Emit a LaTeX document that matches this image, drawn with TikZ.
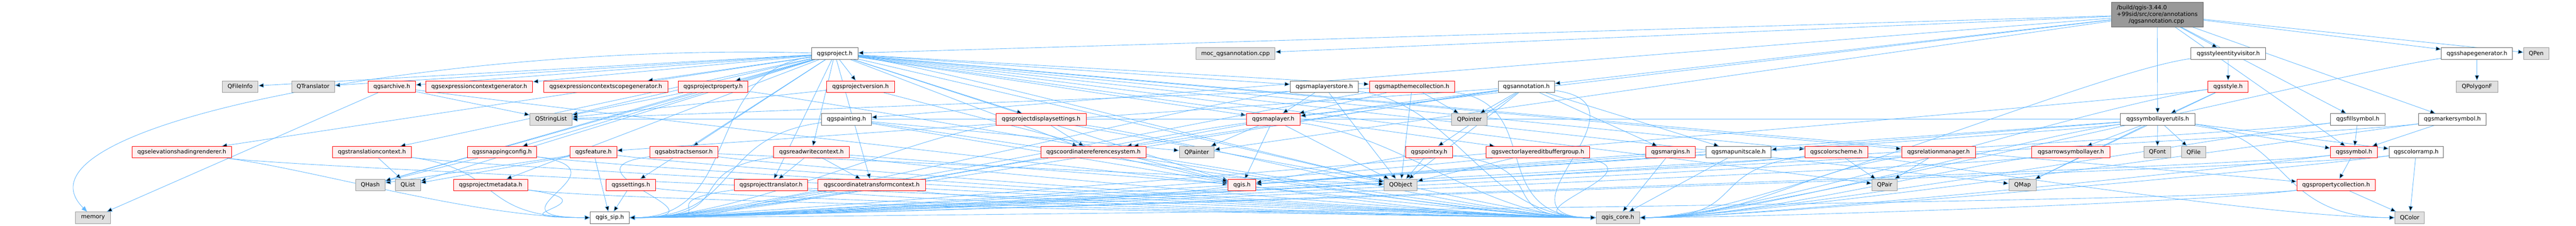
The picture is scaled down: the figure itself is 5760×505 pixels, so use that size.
\documentclass[tikz,border=0pt]{standalone}
\usepackage{fontspec}
\setmainfont{DejaVu Sans}
\usetikzlibrary{arrows.meta}
\definecolor{edgeblue}{HTML}{63B8FF}
\definecolor{truncred}{HTML}{FF0000}
\definecolor{truncfill}{HTML}{FFF0F0}
\definecolor{sysfill}{HTML}{E0E0E0}
\definecolor{sysdraw}{HTML}{999999}
\definecolor{filedraw}{HTML}{666666}
\pgfdeclarelayer{background}
\pgfsetlayers{background,main}
\begin{document}
\begin{tikzpicture}[x=0.75pt, y=-0.75pt, >={Triangle[length=9pt,width=7.5pt]},
    file node/.style={rectangle,draw,line width=0.75pt,inner sep=0pt,minimum height=19.5pt,font=\fontsize{9.6pt}{11.25pt}\selectfont},
    white node/.style={file node,draw=filedraw,fill=white},
    red node/.style={file node,draw=truncred,fill=truncfill},
    gray node/.style={file node,draw=sysdraw,fill=sysfill},
    main file/.style={file node,draw=filedraw,fill=sysdraw,minimum height=41.25pt},
    wd/.style={minimum width=#1*0.75pt},
    dep/.style={->,draw=edgeblue,line width=0.75pt},
    enter left/.style={to path={(\tikztostart) .. controls +(300,40) and +(-300,0) .. (\tikztotarget)}},
    enter right/.style={to path={(\tikztostart) .. controls +(-300,40) and +(300,0) .. (\tikztotarget)}}]

                \useasboundingbox (0, 0) rectangle (5760, 505);

                % top row
                \node[main file, wd=205, align=left] at (4823.5, 32.5) (main) {/build/qgis-3.44.0\\+99sid/src/core/annotations\\\hspace*{20pt}/qgsannotation.cpp};
                \node[white node, wd=103] at (1866.5, 120) (project) {qgsproject.h};
                \node[gray node, wd=177] at (2762.5, 120) (mocann) {moc\_qgsannotation.cpp};
                \node[white node, wd=167] at (4982.5, 120) (styleentity) {qgsstyleentityvisitor.h};
                \node[white node, wd=159] at (5538.5, 120) (shapegen) {qgsshapegenerator.h};
                \node[gray node, wd=56] at (5671, 120) (qpen) {QPen};

                % second row
                \node[gray node, wd=80] at (537, 194) (qfileinfo) {QFileInfo};
                \node[gray node, wd=96] at (700, 194) (qtranslator) {QTranslator};
                \node[red node, wd=106] at (876, 194) (archive) {qgsarchive.h};
                \node[red node, wd=239] at (1071.5, 194) (exprgen) {qgsexpressioncontextgenerator.h};
                \node[red node, wd=277] at (1354.5, 194) (exprscopegen) {qgsexpressioncontextscopegenerator.h};
                \node[red node, wd=155] at (1594.5, 194) (projproperty) {qgsprojectproperty.h};
                \node[red node, wd=152] at (1924, 194) (projversion) {qgsprojectversion.h};
                \node[white node, wd=152] at (2961, 194) (layerstore) {qgsmaplayerstore.h};
                \node[red node, wd=191] at (3157.5, 194) (themecoll) {qgsmapthemecollection.h};
                \node[white node, wd=126] at (3413, 194) (annotation) {qgsannotation.h};
                \node[red node, wd=90] at (4982, 194) (style) {qgsstyle.h};
                \node[gray node, wd=93] at (5538.5, 194) (qpolygonf) {QPolygonF};

                % third row
                \node[gray node, wd=94] at (1232, 267) (qstringlist) {QStringList};
                \node[white node, wd=111] at (1892.5, 267) (painting) {qgspainting.h};
                \node[red node, wd=202] at (2328, 267) (displaysettings) {qgsprojectdisplaysettings.h};
                \node[red node, wd=120] at (2847, 267) (maplayer) {qgsmaplayer.h};
                \node[gray node, wd=79] at (3285.5, 267) (qpointer) {QPointer};
                \node[white node, wd=167] at (4824.5, 267) (symlayerutils) {qgssymbollayerutils.h};
                \node[white node, wd=122] at (5272, 267) (fillsymbol) {qgsfillsymbol.h};
                \node[white node, wd=151] at (5483.5, 267) (markersymbol) {qgsmarkersymbol.h};

                % fourth row
                \node[red node, wd=223] at (406.5, 340.5) (elevshading) {qgselevationshadingrenderer.h};
                \node[red node, wd=177] at (831.5, 340.5) (translationctx) {qgstranslationcontext.h};
                \node[red node, wd=155] at (1122.5, 340.5) (snapping) {qgssnappingconfig.h};
                \node[red node, wd=104] at (1327, 340.5) (feature) {qgsfeature.h};
                \node[red node, wd=152] at (1529, 340.5) (sensor) {qgsabstractsensor.h};
                \node[red node, wd=169] at (1814.5, 340.5) (rwcontext) {qgsreadwritecontext.h};
                \node[red node, wd=236] at (2445, 340.5) (crs) {qgscoordinatereferencesystem.h};
                \node[gray node, wd=78] at (2676, 340.5) (qpainter) {QPainter};
                \node[red node, wd=105] at (3195.5, 340.5) (pointxy) {qgspointxy.h};
                \node[red node, wd=231] at (3438.5, 340.5) (editbuffergroup) {qgsvectorlayereditbuffergroup.h};
                \node[red node, wd=111] at (3735.5, 340.5) (margins) {qgsmargins.h};
                \node[white node, wd=145] at (3887.5, 340.5) (mapunitscale) {qgsmapunitscale.h};
                \node[red node, wd=140] at (4106, 340.5) (colorscheme) {qgscolorscheme.h};
                \node[red node, wd=165] at (4334.5, 340.5) (relationmgr) {qgsrelationmanager.h};
                \node[red node, wd=175] at (4630.5, 340.5) (arrowsymlayer) {qgsarrowsymbollayer.h};
                \node[gray node, wd=60] at (4824, 340.5) (qfont) {QFont};
                \node[gray node, wd=54] at (4905, 340.5) (qfile) {QFile};
                \node[red node, wd=105] at (5263.5, 340.5) (symbol) {qgssymbol.h};
                \node[white node, wd=121] at (5402.5, 340.5) (colorramp) {qgscolorramp.h};

                % fifth row
                \node[gray node, wd=66] at (828, 414) (qhash) {QHash};
                \node[gray node, wd=56] at (912, 414) (qlist) {QList};
                \node[red node, wd=166] at (1097, 414) (projmetadata) {qgsprojectmetadata.h};
                \node[red node, wd=111] at (1410.5, 414) (settings) {qgssettings.h};
                \node[red node, wd=164] at (1724, 414) (projtranslator) {qgsprojecttranslator.h};
                \node[red node, wd=240] at (1949, 414) (transformctx) {qgscoordinatetransformcontext.h};
                \node[red node, wd=62] at (2777, 414) (qgis) {qgis.h};
                \node[gray node, wd=74] at (3132, 414) (qobject) {QObject};
                \node[gray node, wd=56] at (4214, 414) (qpair) {QPair};
                \node[gray node, wd=61] at (4522.5, 414) (qmap) {QMap};
                \node[red node, wd=175] at (5223.5, 414) (propcoll) {qgspropertycollection.h};

                % bottom row
                \node[gray node, wd=78] at (208, 487) (memory) {memory};
                \node[white node, wd=87] at (1363.5, 487) (qgissip) {qgis\_sip.h};
                \node[gray node, wd=97] at (3617.5, 487) (qgiscore) {qgis\_core.h};
                \node[gray node, wd=66] at (5388, 487) (qcolor) {QColor};

                \begin{pgfonlayer}{background}
                \path[dep] (main) edge (annotation) edge (mocann) edge (project) edge (maplayer) edge (painting)
                    edge (qpainter) edge (symlayerutils) edge (styleentity) edge (shapegen) edge (qpen)
                    edge (fillsymbol) edge (markersymbol) edge (symbol);
                \path[dep] (project) edge (qfileinfo) edge (qtranslator) edge (archive) edge (exprgen)
                    edge (exprscopegen) edge (projproperty) edge (projversion) edge (layerstore) edge (themecoll)
                    edge (qstringlist) edge (displaysettings) edge (maplayer) edge (elevshading) edge (translationctx)
                    edge (snapping) edge (sensor) edge (rwcontext) edge (crs) edge (editbuffergroup) edge (colorscheme)
                    edge (relationmgr) edge (projmetadata) edge (projtranslator) edge (transformctx) edge (settings)
                    edge (qgis) edge (qobject) edge (qpair) edge (qmap) edge (qlist) edge (qhash)
                    edge[enter right] (qgissip) edge[enter left] (qgiscore) edge (propcoll);
                \draw[dep] (project) .. controls (1000, 95) and (0, 280) .. (memory);
                \path[dep] (layerstore) edge (maplayer) edge (qobject) edge[enter left] (qgiscore) edge[enter right] (qgissip);
                \path[dep] (themecoll) edge (maplayer) edge (qpointer) edge (qobject) edge (qstringlist)
                    edge[enter left] (qgiscore) edge[enter right] (qgissip);
                \path[dep] (annotation) edge (maplayer) edge (qpointer) edge (pointxy) edge (qobject) edge (margins)
                    edge (mapunitscale) edge (crs) edge (feature) edge[enter left] (qgiscore) edge[enter right] (qgissip);
                \path[dep] (styleentity) edge (style) edge[enter right] (qgiscore);
                \path[dep] (style) edge (symlayerutils) edge (qmap) edge[enter right] (qgiscore) edge[enter right] (qgissip);
                \path[dep] (shapegen) edge (qpolygonf) edge[enter right] (qgiscore);
                \path[dep] (symlayerutils) edge (arrowsymlayer) edge (qfont) edge (qfile) edge (qmap) edge (symbol)
                    edge (colorramp) edge (mapunitscale) edge (qstringlist) edge (qgis) edge[enter left] (qcolor)
                    edge[enter right] (qgiscore) edge[enter right] (qgissip);
                \path[dep] (fillsymbol) edge (symbol) edge[enter right] (qgiscore) edge[enter right] (qgissip);
                \path[dep] (markersymbol) edge (symbol) edge[enter right] (qgiscore) edge[enter right] (qgissip);
                \path[dep] (symbol) edge (propcoll) edge[enter right] (qgiscore) edge[enter right] (qgissip);
                \path[dep] (colorramp) edge (qcolor) edge[enter right] (qgiscore) edge[enter right] (qgissip);
                \path[dep] (propcoll) edge (qcolor) edge[enter right] (qgiscore) edge[enter right] (qgissip);
                \path[dep] (arrowsymlayer) edge[enter right] (qgiscore) edge[enter right] (qgissip);
                \path[dep] (relationmgr) edge (qpair) edge[enter right] (qgiscore) edge[enter right] (qgissip);
                \path[dep] (colorscheme) edge (qpair) edge[enter left] (qcolor) edge[enter right] (qgiscore) edge[enter right] (qgissip);
                \path[dep] (mapunitscale) edge (qgis) edge (qgiscore);
                \path[dep] (margins) edge (qgis) edge (qgiscore);
                \path[dep] (editbuffergroup) edge (qobject) edge[enter left] (qgiscore) edge[enter right] (qgissip);
                \path[dep] (pointxy) edge (qobject) edge (qgis) edge[enter left] (qgiscore);
                \path[dep] (maplayer) edge (crs) edge (qpainter) edge (qobject) edge (qgis)
                    edge[enter left] (qgiscore) edge[enter right] (qgissip);
                \path[dep] (displaysettings) edge (crs) edge (qobject) edge[enter left] (qgiscore) edge[enter right] (qgissip);
                \path[dep] (crs) edge (qgis) edge[enter left] (qgiscore) edge[enter right] (qgissip);
                \path[dep] (qgis) edge[enter left] (qgiscore) edge[enter right] (qgissip);
                \path[dep] (painting) edge (qpainter) edge (qgis) edge[enter left] (qgiscore) edge[enter right] (qgissip);
                \path[dep] (rwcontext) edge (projtranslator) edge (transformctx) edge (qgis)
                    edge[enter left] (qgiscore) edge[enter right] (qgissip);
                \path[dep] (sensor) edge (qobject) edge[enter left] (qgiscore) edge[enter right] (qgissip);
                \path[dep] (projtranslator) edge[enter left] (qgiscore) edge[enter right] (qgissip);
                \path[dep] (transformctx) edge[enter left] (qgiscore) edge[enter right] (qgissip);
                \path[dep] (settings) edge[enter left] (qgiscore) edge (qgissip);
                \path[dep] (projmetadata) edge[enter left] (qgiscore) edge[enter left] (qgissip);
                \path[dep] (feature) edge (qlist) edge (qhash) edge[enter left] (qgiscore) edge (qgissip);
                \path[dep] (snapping) edge (qhash) edge[enter left] (qgiscore) edge[enter left] (qgissip);
                \path[dep] (translationctx) edge (qlist) edge[enter left] (qgiscore) edge[enter left] (qgissip);
                \path[dep] (archive) edge (memory) edge (qstringlist) edge[enter left] (qgiscore);
                \path[dep] (projproperty) edge (qstringlist) edge (qhash) edge[enter left] (qgiscore);
                \path[dep] (projversion) edge (qstringlist) edge (qgis);
                \path[dep] (elevshading) edge[enter left] (qgiscore) edge[enter left] (qgissip);
                \end{pgfonlayer}
            \end{tikzpicture}
\end{document}
